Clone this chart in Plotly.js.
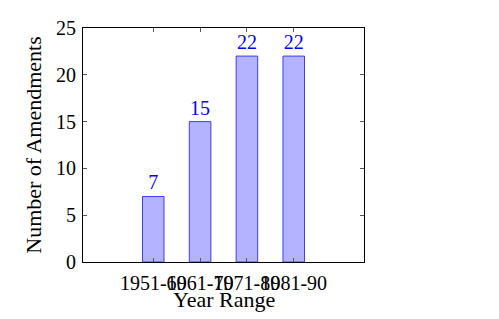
<!DOCTYPE html>
<html>
<head>
<meta charset="utf-8">
<script src="https://cdn.plot.ly/plotly-3.0.1.min.js"></script>
<style>html,body{margin:0;padding:0;background:#fff;}#chart{width:499px;height:319px;}</style>
</head>
<body>
<div id="chart"></div>
<script>
var categories = ["1951-60", "1961-70", "1971-80", "1981-90"];
var amendments = [7, 15, 22, 22];
var yTicks = [0, 5, 10, 15, 20, 25];
var xTitle = "Year Range";
var yTitle = "Number of Amendments";

var FONT = "'Liberation Serif', 'Times New Roman', serif";
var FS = 20;
var TS = 22;
var trace = {
  type: "bar",
  x: categories.map(function(c, i){ return i; }),
  y: amendments,
  width: 0.46,
  text: amendments.map(String),
  textposition: "outside",
  cliponaxis: false,
  textfont: {family: FONT, size: FS, color: "#0000ff"},
  marker: {color: "rgb(179,179,255)", line: {color: "rgb(60,60,255)", width: 1}},
  hoverinfo: "none"
};

var layout = {
  width: 499, height: 319,
  margin: {l: 83, r: 135, t: 28, b: 57},
  paper_bgcolor: "#fff", plot_bgcolor: "#fff",
  showlegend: false,
  font: {family: FONT, size: FS, color: "#000"},
  xaxis: {
    range: [-1.5, 4.5],
    tickmode: "array",
    tickvals: categories.map(function(c, i){ return i; }),
    ticktext: categories,
    tickangle: 0,
    ticks: "inside", ticklen: 4, tickcolor: "#555", tickwidth: 1,
    showline: true, linecolor: "#000", linewidth: 1, mirror: "ticks",
    showgrid: false, zeroline: false,
    ticklabelstandoff: 3,
    tickfont: {family: FONT, size: FS, color: "#000"}
  },
  yaxis: {
    range: [0, 25],
    tickmode: "array",
    tickvals: yTicks,
    ticktext: yTicks.map(String),
    ticks: "inside", ticklen: 4, tickcolor: "#555", tickwidth: 1,
    showline: true, linecolor: "#000", linewidth: 1, mirror: "ticks",
    showgrid: false, zeroline: false,
    ticklabelstandoff: 2,
    tickfont: {family: FONT, size: FS, color: "#000"},
    title: {text: yTitle, font: {family: FONT, size: TS, color: "#000"}, standoff: 8}
  },
  annotations: [{
    text: xTitle, xref: "paper", yref: "paper", x: 0.5, y: 0,
    xanchor: "center", yanchor: "middle", yshift: -37, showarrow: false,
    font: {family: FONT, size: TS, color: "#000"}
  }]
};

Plotly.newPlot("chart", [trace], layout, {staticPlot: true, displayModeBar: false});
</script>
</body>
</html>
